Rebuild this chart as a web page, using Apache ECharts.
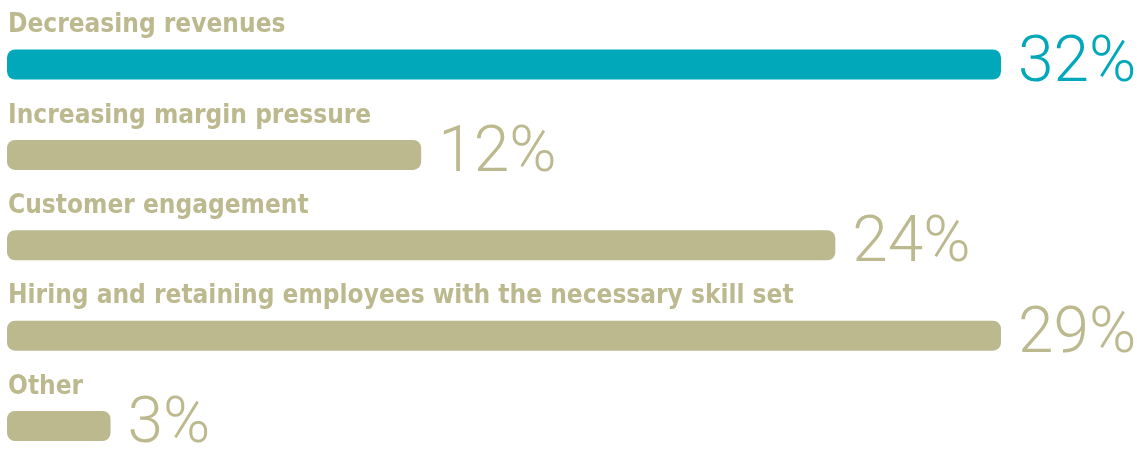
<!DOCTYPE html>
<html>
<head>
<meta charset="utf-8">
<script src="https://cdn.jsdelivr.net/npm/echarts@6/dist/echarts.min.js"></script>
<style>html,body{margin:0;padding:0;background:#fff}#c{width:1137px;height:453px}</style>
</head>
<body>
<div id="c"></div>
<script>
var categories = ["Decreasing revenues", "Increasing margin pressure", "Customer engagement", "Hiring and retaining employees with the necessary skill set", "Other"];
var values = [32, 12, 24, 29, 3];
var highlightIndex = 0;

var TEAL = '#00a8ba', TAN = '#bdb98f';
var chart = echarts.init(document.getElementById('c'));
chart.setOption({
  animation: false,
  grid: { left: 7, top: 64.5, right: 136, bottom: 27, containLabel: false },
  xAxis: { type: 'value', min: 0, max: 28.8, show: false },
  yAxis: { type: 'category', data: categories, inverse: true, show: false, boundaryGap: false },
  series: [
    {
      type: 'bar',
      barWidth: 30,
      clip: true,
      data: values.map(function (v, i) {
        var c = i === highlightIndex ? TEAL : TAN;
        return { value: v, itemStyle: { color: c }, label: { color: c } };
      }),
      itemStyle: { borderRadius: 8 },
      label: {
        show: true, position: 'right', distance: 17, offset: [0, 0],
        formatter: '{c}%',
        fontFamily: 'Roboto', fontWeight: 300, fontSize: 64
      }
    },
    {
      type: 'bar',
      barWidth: 30,
      barGap: '-100%',
      clip: false,
      data: values,
      itemStyle: { color: 'rgba(0,0,0,0)' },
      label: {
        show: true, position: [1, -11], align: 'left', verticalAlign: 'bottom',
        formatter: '{b}', color: TAN,
        fontFamily: '"DejaVu Sans Condensed", sans-serif',
        fontWeight: 'bold', fontSize: 26, lineHeight: 26
      },
      z: 3
    }
  ]
});
</script>
</body>
</html>
